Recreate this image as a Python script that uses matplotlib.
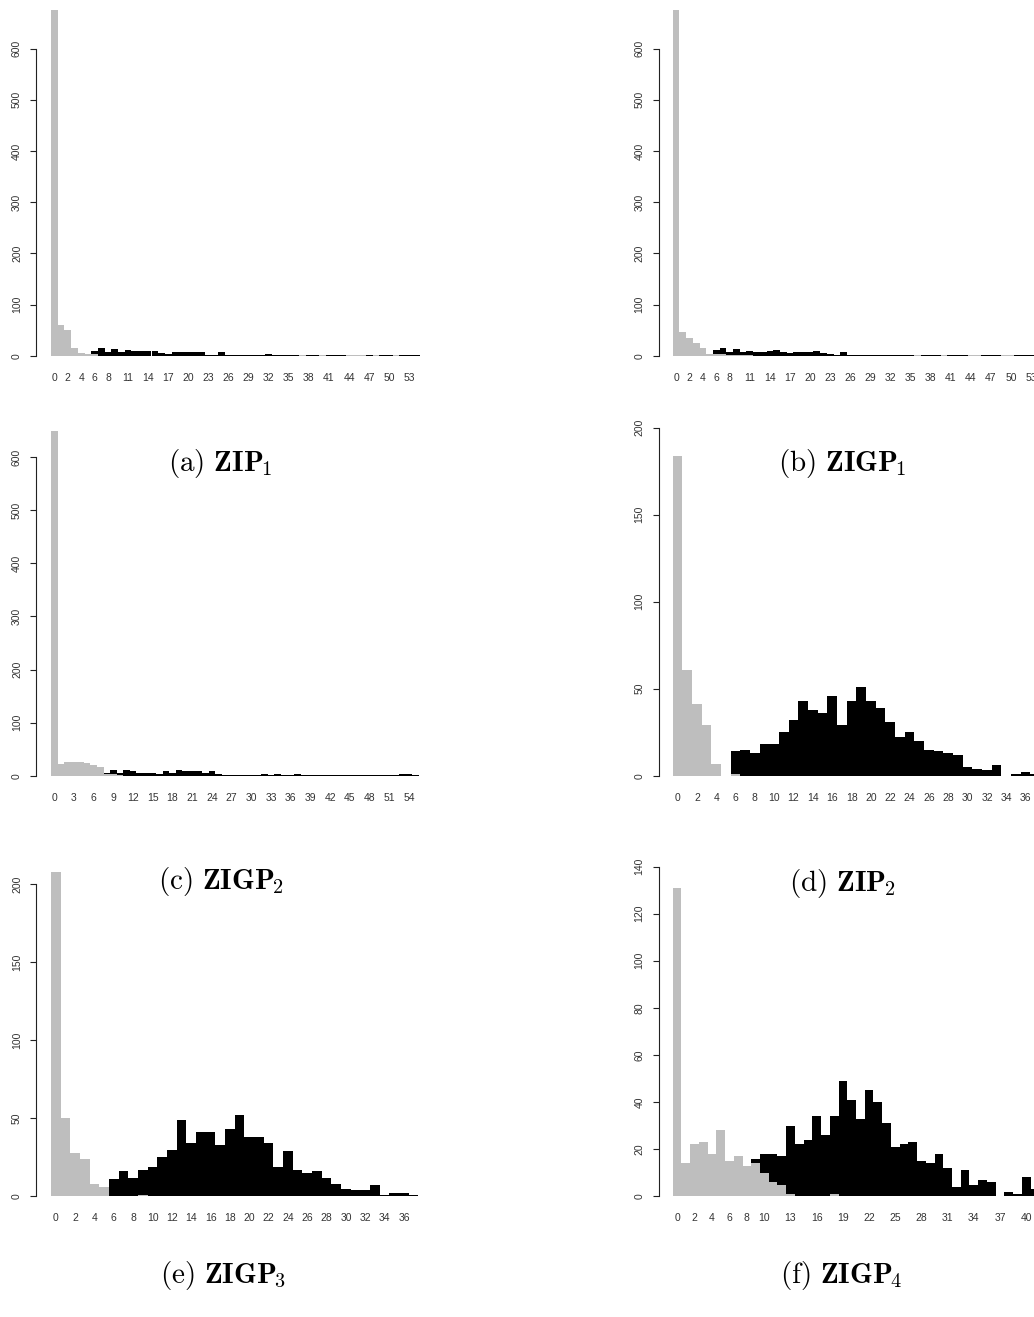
import numpy as np
import matplotlib
matplotlib.use("Agg")
import matplotlib.pyplot as plt
from matplotlib import font_manager as fm

plt.rcParams['mathtext.fontset'] = 'cm'
plt.rcParams['font.family'] = ['Liberation Sans', 'DejaVu Sans']

tick_font = None
for f in fm.fontManager.ttflist:
    if f.name == 'Liberation Sans' and f.style == 'normal' and f.weight in (400, 'normal') \
            and 'Narrow' not in f.fname:
        tick_font = fm.FontProperties(fname=f.fname, size=7.5)
        break
if tick_font is None:
    tick_font = fm.FontProperties(family='DejaVu Sans', size=7)

# ---------------- data ----------------
# (a) ZIP1
black_a = [0, 0, 0, 0, 0, 0, 10, 16, 8, 14, 8, 12, 10, 9, 9, 10, 5, 4, 8, 8,
           7, 8, 7, 2, 2, 8, 1, 1, 1, 1, 1, 1, 3, 1, 1, 2, 1, 0, 2, 1,
           0, 1, 2, 1, 0, 0, 0, 2, 0, 1, 1, 0, 1, 1, 2]
gray_a = [675, 60, 50, 15, 6, 4, 3, 0, 0, 0, 0, 0, 0, 0, 0, 0, 0, 0, 0, 0,
          0, 0, 0, 0, 0, 0, 0, 0, 0, 0, 0, 0, 0, 0, 0, 0, 0, 1, 0, 0,
          1, 0, 0, 0, 1, 1, 1, 0, 1, 0, 0, 1, 0, 0, 0]
xlabels_a = [0, 2, 4, 6, 8, 11, 14, 17, 20, 23, 26, 29, 32, 35, 38, 41, 44, 47, 50, 53]

# (b) ZIGP1
black_b = [0, 0, 0, 0, 0, 0, 11, 15, 7, 13, 7, 10, 7, 7, 10, 12, 7, 5, 8, 8,
           7, 9, 6, 4, 2, 8, 1, 1, 1, 1, 1, 1, 2, 1, 1, 1, 0, 1, 2, 1,
           0, 1, 2, 1, 0, 0, 1, 1, 1, 0, 0, 1, 1, 1, 1]
gray_b = [675, 46, 34, 25, 16, 3, 3, 3, 2, 2, 2, 2, 0, 0, 0, 0, 0, 0, 0, 0,
          0, 0, 0, 0, 0, 0, 0, 0, 0, 0, 0, 0, 0, 0, 0, 0, 1, 0, 0, 0,
          1, 0, 0, 0, 1, 1, 0, 0, 0, 1, 1, 0, 0, 0, 0]
xlabels_b = [0, 2, 4, 6, 8, 11, 14, 17, 20, 23, 26, 29, 32, 35, 38, 41, 44, 47, 50, 53]

# (c) ZIGP2
black_c = [0, 0, 0, 0, 0, 0, 0, 17, 6, 11, 6, 11, 9, 5, 5, 5, 4, 9, 6, 11,
           8, 8, 8, 5, 8, 4, 2, 2, 2, 2, 1, 1, 4, 2, 4, 2, 2, 4, 2, 1,
           1, 2, 2, 1, 1, 1, 2, 1, 1, 2, 2, 1, 1, 3, 3, 2]
gray_c = [650, 22, 25, 26, 25, 23, 21, 16, 4, 3, 2, 0, 0, 0, 0, 0, 0, 0, 0, 0,
          0, 0, 0, 0, 0, 0, 0, 0, 0, 0, 0, 0, 0, 0, 0, 0, 0, 0, 0, 0,
          0, 0, 0, 0, 0, 0, 0, 0, 0, 0, 0, 0, 0, 0, 0, 0]
xlabels_c = list(range(0, 55, 3))

# (d) ZIP2
black_d = [0, 0, 0, 0, 0, 0, 14, 15, 13, 18, 18, 25, 32, 43, 38, 36, 46, 29, 43, 51,
           43, 39, 31, 22, 25, 20, 15, 14, 13, 12, 5, 4, 3, 6, 0, 1, 2, 1]
gray_d = [184, 61, 41, 29, 7, 0, 1, 0, 0, 0, 0, 0, 0, 0, 0, 0, 0, 0, 0, 0,
          0, 0, 0, 0, 0, 0, 0, 0, 0, 0, 0, 0, 0, 0, 0, 0, 0, 0]
xlabels_d = list(range(0, 37, 2))

# (e) ZIGP3
black_e = [0, 0, 0, 0, 0, 0, 11, 16, 12, 17, 19, 25, 30, 49, 34, 41, 41, 33, 43, 52,
           38, 38, 34, 19, 29, 17, 15, 16, 12, 8, 5, 4, 4, 7, 1, 2, 2, 1]
gray_e = [208, 50, 28, 24, 8, 6, 0, 0, 0, 1, 0, 0, 0, 0, 0, 0, 0, 0, 0, 0,
          0, 0, 0, 0, 0, 0, 0, 0, 0, 0, 0, 0, 0, 0, 0, 0, 0, 0]
xlabels_e = list(range(0, 37, 2))

# (f) ZIGP4
black_f = [0, 0, 0, 0, 0, 0, 0, 0, 0, 16, 18, 18, 17, 30, 22, 24, 34, 26, 34, 49,
           41, 33, 45, 40, 31, 21, 22, 23, 15, 14, 18, 12, 4, 11, 5, 7, 6, 0, 2, 1,
           8, 3]
gray_f = [131, 14, 22, 23, 18, 28, 15, 17, 13, 14, 10, 6, 5, 1, 0, 0, 0, 0, 1, 0,
          0, 0, 0, 0, 0, 0, 0, 0, 0, 0, 0, 0, 0, 0, 0, 0, 0, 0, 0, 0,
          0, 0]
xlabels_f = [0, 2, 4, 6, 8, 10, 13, 16, 19, 22, 25, 28, 31, 34, 37, 40]

yticks_a = [0, 100, 200, 300, 400, 500, 600]
yticks_d = [0, 50, 100, 150, 200]
yticks_f = [0, 20, 40, 60, 80, 100, 120, 140]

captions = [r'$\mathrm{(a)}\ \mathbf{ZIP}_{\!1}$', r'$\mathrm{(b)}\ \mathbf{ZIGP}_{\!1}$',
            r'$\mathrm{(c)}\ \mathbf{ZIGP}_{\!2}$', r'$\mathrm{(d)}\ \mathbf{ZIP}_{\!2}$',
            r'$\mathrm{(e)}\ \mathbf{ZIGP}_{\!3}$', r'$\mathrm{(f)}\ \mathbf{ZIGP}_{\!4}$']

# ---------------- layout (pixels) ----------------
W, H = 1034, 1317
DPI = 100
GRAY = '#bebebe'

panels = [
    dict(black=black_a, gray=gray_a, xl=xlabels_a, yt=yticks_a,
         x0=51.0, bw=6.7, y0=355.7, s=0.512, top=0, sx=36.0),
    dict(black=black_b, gray=gray_b, xl=xlabels_b, yt=yticks_a,
         x0=672.7, bw=6.7, y0=355.7, s=0.512, top=0, sx=658.7),
    dict(black=black_c, gray=gray_c, xl=xlabels_c, yt=yticks_a,
         x0=51.0, bw=6.57, y0=775.7, s=0.5307, top=420, sx=36.0),
    dict(black=black_d, gray=gray_d, xl=xlabels_d, yt=yticks_d,
         x0=672.7, bw=9.67, y0=775.7, s=1.74, top=420, sx=658.7),
    dict(black=black_e, gray=gray_e, xl=xlabels_e, yt=yticks_d,
         x0=51.0, bw=9.67, y0=1196.3, s=1.56, top=840, sx=36.0),
    dict(black=black_f, gray=gray_f, xl=xlabels_f, yt=yticks_f,
         x0=672.7, bw=8.727, y0=1196.3, s=2.355, top=840, sx=658.7),
]
caption_pos = [(220, 463), (842, 463), (221, 882), (842, 883), (223, 1275), (841, 1275)]

px2pt = 72.0 / DPI

fig = plt.figure(figsize=(W / DPI, H / DPI), dpi=DPI)

for p in panels:
    n = len(p['black'])
    x = np.arange(n)
    wpx = n * p['bw']
    hpx = p['y0'] - p['top']
    ax = fig.add_axes([p['x0'] / W, 1 - p['y0'] / H, wpx / W, hpx / H])
    ax.set_xlim(-0.5, n - 0.5)
    ax.set_ylim(0, hpx / p['s'])
    ax.bar(x, p['black'], width=1.0, color='black', linewidth=0, antialiased=False)
    ax.bar(x, p['gray'], width=1.0, color=GRAY, linewidth=0, antialiased=False)

    for side in ('top', 'right', 'bottom'):
        ax.spines[side].set_visible(False)
    ax.spines['left'].set_position(('outward', (p['x0'] - p['sx']) * px2pt))
    ax.spines['left'].set_bounds(p['yt'][0], p['yt'][-1])
    ax.spines['left'].set_linewidth(0.8)
    ax.spines['left'].set_color('#222222')

    ax.set_yticks(p['yt'])
    ax.set_yticklabels([str(v) for v in p['yt']], rotation=90, va='center',
                       fontproperties=tick_font)
    ax.tick_params(axis='y', length=6 * px2pt, width=0.8, color='#222222',
                   pad=8 * px2pt, labelcolor='#333333')

    ax.set_xticks(p['xl'])
    ax.set_xticklabels([str(v) for v in p['xl']], fontproperties=tick_font)
    ax.tick_params(axis='x', length=0, pad=17 * px2pt, labelcolor='#333333')
    ax.patch.set_visible(False)

for (cx, cy), cap in zip(caption_pos, captions):
    fig.text(cx / W, 1 - cy / H, cap, ha='center', va='center', fontsize=21)

fig.savefig('out.png', dpi=DPI)
